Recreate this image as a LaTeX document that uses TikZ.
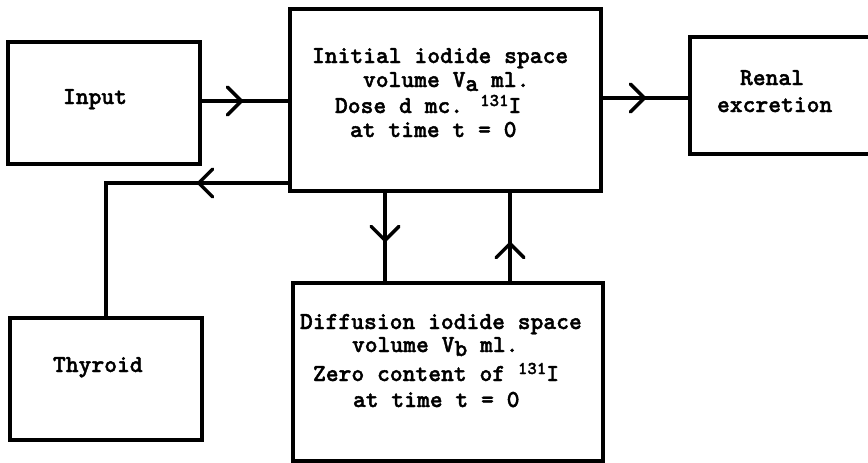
\documentclass[tikz,border=0pt]{standalone}
\usepackage{fontspec}
\newfontfamily\typefont{lmmonolt10-bold.otf}[FakeBold=1.6]
\usetikzlibrary{arrows.meta,decorations.markings}

\tikzset{
  box/.style={draw, line width=3.5pt, rectangle, inner sep=0pt},
  txt/.style={anchor=base west, inner sep=0pt, outer sep=0pt,
    font=\typefont\fontsize{24.4}{28}\selectfont},
  flow/.style={line width=3.5pt},
  tipat/.style={postaction={decorate}, decoration={markings,
    mark=at position #1 with {\arrow{Straight Barb[length=14pt,width=28pt,line cap=round]}}}}
}
% lowered index letter and raised mass number, kept out of the line height
\newcommand{\lo}[1]{\smash{\raisebox{-4pt}{#1}}}
\newcommand{\iso}[1]{\smash{\raisebox{7pt}{\fontsize{18}{20}\selectfont #1}}}

\begin{document}
\begin{tikzpicture}[x=1pt, y=-1pt]
  \useasboundingbox (0,0) rectangle (868,463);

  % compartments
  \node[box, minimum width=192pt, minimum height=122pt] (input)   at (104,103) {};
  \node[box, minimum width=311pt, minimum height=182pt] (initial) at (445.5,100) {};
  \node[box, minimum width=230pt, minimum height=117pt] (renal)   at (805,95.5) {};
  \node[box, minimum width=192pt, minimum height=122pt] (thyroid) at (106,379) {};
  \node[box, minimum width=310pt, minimum height=178pt] (diffusion) at (448,372) {};

  % labels
  \node[txt] (tin)  at (63,104)  {Input};
  \node[txt] (tre1) at (740,85)  {Renal};
  \node[txt] (tre2) at (717,112) {excretion};
  \node[txt] (tth)  at (53,372)  {Thyroid};

  \node[txt] (ti1) at (312,63)  {Initial iodide space};
  \node[txt] (ti2) at (363,87)  {volume V\lo{a} ml.};
  \node[txt] (ti3) at (335,113) {Dose d mc.  \iso{131}I};
  \node[txt] (ti4) at (350,137) {at time t = 0};

  \node[txt] (td1) at (300,329) {Diffusion iodide space};
  \node[txt] (td2) at (352,352) {volume V\lo{b} ml.};
  \node[txt] (td3) at (313,381) {Zero content of \iso{131}I};
  \node[txt] (td4) at (353,407) {at time t = 0};

  % guide coordinates for the connectors
  \coordinate (fb)   at (0,183);
  \coordinate (down) at (385,0);
  \coordinate (up)   at (510,0);
  \coordinate (lin)  at (0,101);
  \coordinate (lout) at (0,98);

  % flows
  \draw[flow, tipat=42pt] (input.east |- lin) -- (initial.west |- lin);
  \draw[flow, tipat=44pt] (initial.east |- lout) -- (renal.west |- lout);
  \draw[flow, tipat=92pt] (initial.west |- fb) -| (thyroid.north);
  \draw[flow, tipat=50pt] (initial.south -| down) -- (diffusion.north -| down);
  \draw[flow, tipat=40pt] (diffusion.north -| up) -- (initial.south -| up);
\end{tikzpicture}
\end{document}
